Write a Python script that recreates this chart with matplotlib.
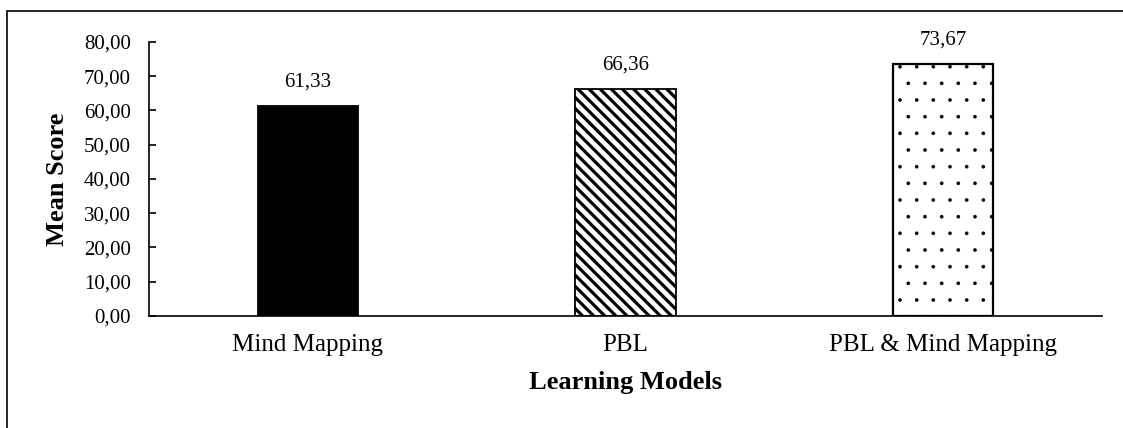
import matplotlib.pyplot as plt
from matplotlib.patches import Rectangle
from matplotlib.ticker import FuncFormatter

modelos = ["Mind Mapping", "PBL", "PBL & Mind Mapping"]
promedios = [61.33, 66.36, 73.67]
tramas = ["", "\\\\\\", "."]
rellenos = ["black", "white", "white"]
grosor_trama = [1.0, 2.3, 0.2]

plt.rcParams["font.family"] = ["Liberation Serif", "DejaVu Serif"]

def coma(v, pos=None):
    return f"{v:.2f}".replace(".", ",")

fig = plt.figure(figsize=(11.23, 4.28), dpi=100)
ax = fig.add_axes([0.1327, 0.2617, 0.8486, 0.6402])

barras = ax.bar(modelos, promedios, width=0.315, color=rellenos,
                edgecolor="black", linewidth=1.3)
for b, t, g in zip(barras, tramas, grosor_trama):
    b.set_hatch(t)
    b.set_hatch_linewidth(g)
barras[2].set_linewidth(1.6)

for b, v in zip(barras, promedios):
    ax.text(b.get_x() + b.get_width() / 2, v + 4.2, coma(v),
            ha="center", va="bottom", fontsize=15)

ax.set_ylim(0, 80)
ax.set_xlim(-0.5, 2.5)
ax.set_yticks(range(0, 81, 10))
ax.yaxis.set_major_formatter(FuncFormatter(coma))
ax.tick_params(axis="y", direction="in", length=5, width=1.2, labelsize=15, pad=13)
ax.tick_params(axis="x", length=0, labelsize=18, pad=13)
ax.spines["top"].set_visible(False)
ax.spines["right"].set_visible(False)
ax.spines["left"].set_linewidth(1.2)
ax.spines["bottom"].set_linewidth(1.2)

ax.set_ylabel("Mean Score", fontsize=19, fontweight="bold")
ax.set_xlabel("Learning Models", fontsize=19, fontweight="bold")
ax.yaxis.set_label_coords(-0.084, 0.5)
ax.xaxis.set_label_coords(0.5, -0.2)

fig.patches.append(Rectangle((7 / 1123, -0.05), 1.1, 1 - 11 / 428 + 0.05,
                             transform=fig.transFigure, fill=False,
                             edgecolor="black", linewidth=1.2))

plt.savefig("out.png", dpi=100)
